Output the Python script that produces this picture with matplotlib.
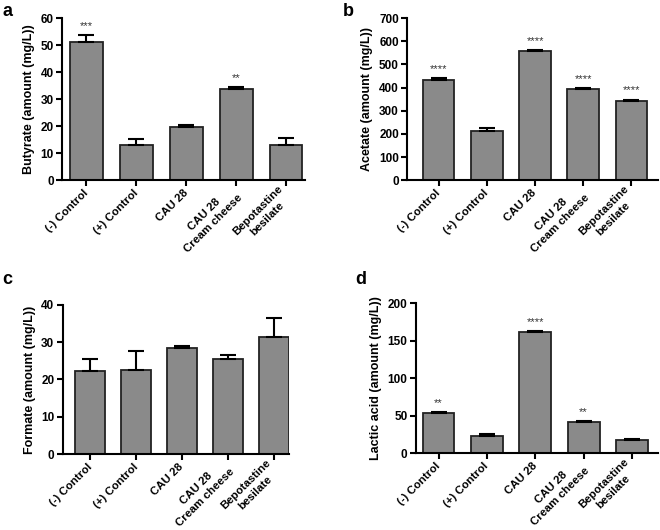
import matplotlib
matplotlib.use('Agg')
import matplotlib.pyplot as plt
import numpy as np

plt.rcParams['font.family'] = ['Liberation Sans', 'DejaVu Sans']

groups = ['(-) Control', '(+) Control', 'CAU 28', 'CAU 28\nCream cheese', 'Bepotastine\nbesilate']

butyrate = [51.3, 13.1, 19.8, 33.7, 12.9]
butyrate_err = [2.4, 2.0, 0.7, 0.6, 2.8]
butyrate_sig = ['***', '', '', '**', '']

acetate = [433, 211, 558, 393, 340]
acetate_err = [6, 16, 5, 5, 8]
acetate_sig = ['****', '', '****', '****', '****']

formate = [22.3, 22.5, 28.3, 25.6, 31.4]
formate_err = [3.3, 5.0, 0.6, 1.0, 5.1]
formate_sig = ['', '', '', '', '']

lactic = [53, 23, 161, 41, 17.5]
lactic_err = [2.0, 3.0, 1.5, 1.5, 1.5]
lactic_sig = ['**', '', '****', '**', '']

bar_color = '#8a8a8a'


def panel(fig, rect, letter, letter_xy, vals, errs, sigs, ylabel, ymax, ystep, xlim):
    ax = fig.add_axes(rect)
    x = np.arange(len(vals))
    ax.bar(x, vals, width=0.66, color=bar_color, edgecolor='#222222', linewidth=1.3, zorder=2)
    ax.errorbar(x, vals, yerr=[np.zeros(len(vals)), errs], fmt='none', ecolor='black',
                elinewidth=1.5, capsize=6, capthick=1.5, zorder=3)
    for xi, v, e, s in zip(x, vals, errs, sigs):
        if s:
            ax.text(xi, v + e + ymax * 0.025, s, ha='center', va='bottom', fontsize=8, color='#333333')
    ax.set_ylim(0, ymax)
    ax.set_yticks(np.arange(0, ymax + 1, ystep))
    ax.set_xlim(*xlim)
    ax.set_xticks(x)
    ax.set_xticklabels(groups, rotation=45, ha='right', va='center', rotation_mode='anchor',
                       multialignment='center', linespacing=1.35, fontsize=8.2, fontweight='bold')
    for lab in ax.get_yticklabels():
        lab.set_fontweight('bold')
        lab.set_fontsize(8.5)
    ax.set_ylabel(ylabel, fontsize=9, fontweight='bold', labelpad=4)
    for sp in ['top', 'right']:
        ax.spines[sp].set_visible(False)
    for sp in ['left', 'bottom']:
        ax.spines[sp].set_linewidth(1.5)
    ax.tick_params(width=1.5, length=4, pad=2)
    ax.tick_params(axis='x', pad=4)
    fig.text(letter_xy[0], letter_xy[1], letter, fontsize=13, fontweight='bold', ha='left', va='top')
    return ax


fig = plt.figure(figsize=(6.6, 5.3), dpi=100)

panel(fig, [0.094, 0.660, 0.368, 0.306], 'a', (0.004, 0.995), butyrate, butyrate_err, butyrate_sig,
      'Butyrate (amount (mg/L))', 60, 10, (-0.49, 4.38))
panel(fig, [0.617, 0.660, 0.380, 0.306], 'b', (0.520, 0.995), acetate, acetate_err, acetate_sig,
      'Acetate (amount (mg/L))', 700, 100, (-0.65, 4.55))
panel(fig, [0.095, 0.143, 0.343, 0.282], 'c', (0.004, 0.488), formate, formate_err, formate_sig,
      'Formate (amount (mg/L))', 40, 10, (-0.6, 4.33))
panel(fig, [0.630, 0.145, 0.367, 0.283], 'd', (0.538, 0.488), lactic, lactic_err, lactic_sig,
      'Lactic acid (amount (mg/L))', 200, 50, (-0.47, 4.54))

fig.savefig('out.png', dpi=100)
